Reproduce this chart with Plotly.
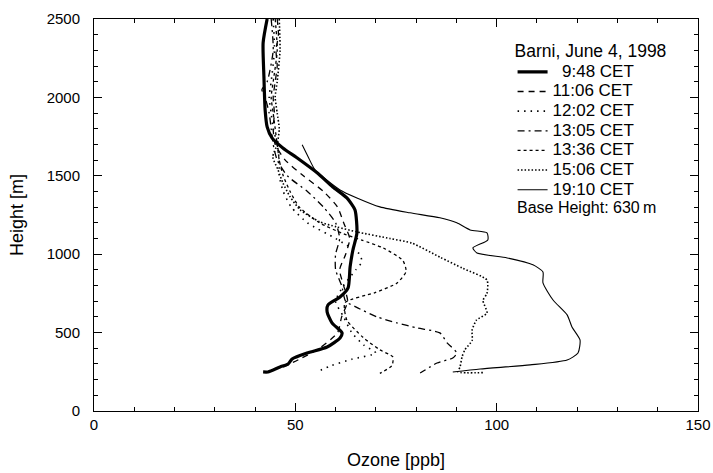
import plotly.graph_objects as go

# ---- data (Ozone [ppb] vs Height [m]) ----
h_0948 = [2500, 2348, 2131, 1921, 1812, 1742, 1678, 1615, 1519, 1429, 1359, 1283, 1136, 1027, 919, 785, 727, 676, 632, 562, 498, 466, 408, 370, 332, 300, 281, 249, 249]
o_0948 = [43.0, 42.0, 42.2, 42.5, 43.0, 44.2, 46.9, 50.4, 55.4, 59.3, 62.8, 64.8, 65.3, 64.3, 63.6, 63.1, 61.1, 58.1, 57.9, 59.1, 61.6, 61.1, 57.9, 52.9, 49.2, 48.2, 46.2, 43.2, 42.0]

h_1106 = [2500, 2400, 2300, 2200, 2100, 2000, 1900, 1800, 1700, 1600, 1500, 1400, 1300, 1200, 1100, 1000, 900, 800, 700, 600, 500, 400, 330, 280]
o_1106 = [45.5, 45.8, 45.2, 45.5, 45.0, 44.5, 44.8, 44.5, 45.0, 47.5, 52.0, 57.0, 60.5, 62.0, 63.5, 62.5, 61.0, 62.0, 63.0, 61.5, 60.5, 56.0, 51.0, 47.0]

h_1202 = [2500, 2300, 2100, 2000, 1900, 1800, 1700, 1600, 1500, 1400, 1300, 1200, 1100, 1000, 950, 900, 800, 700, 600, 500, 420, 370, 330, 290, 250]
o_1202 = [44.5, 44.8, 44.0, 43.5, 44.0, 44.5, 45.5, 46.0, 46.0, 47.0, 49.0, 53.0, 60.0, 66.0, 66.5, 65.0, 62.0, 60.0, 62.0, 64.0, 67.0, 70.0, 64.0, 59.0, 55.4]

h_1305 = [2500, 2300, 2100, 2050, 2000, 1900, 1800, 1700, 1600, 1500, 1400, 1300, 1200, 1100, 1000, 900, 800, 700, 664, 600, 562, 530, 498, 434, 370, 338, 306, 242]
o_1305 = [44.0, 44.5, 43.0, 41.7, 42.5, 43.5, 44.0, 44.5, 45.5, 48.0, 53.0, 57.0, 60.0, 61.0, 60.0, 60.0, 61.5, 62.5, 65.0, 70.3, 75.2, 80.2, 85.9, 87.7, 90.1, 89.1, 85.2, 81.0]

h_1336 = [2500, 2300, 2100, 2000, 1900, 1800, 1700, 1600, 1500, 1400, 1300, 1200, 1130, 1090, 1040, 960, 890, 815, 755, 690, 580, 470, 390, 345, 290, 240]
o_1336 = [45.0, 45.5, 44.5, 44.0, 44.5, 45.0, 45.5, 46.0, 47.0, 48.7, 51.0, 56.0, 62.0, 66.5, 71.8, 76.7, 77.5, 75.2, 69.8, 62.3, 62.8, 66.8, 71.0, 74.2, 74.0, 71.0]

h_1506 = [2500, 2300, 2100, 2000, 1900, 1800, 1700, 1621, 1538, 1455, 1366, 1283, 1206, 1174, 1142, 1100, 1070, 980, 910, 835, 750, 705, 625, 580, 515, 450, 390, 345, 280, 250, 245]
o_1506 = [46.0, 46.2, 45.5, 45.0, 45.5, 46.0, 45.5, 44.4, 45.7, 46.9, 48.7, 51.2, 56.1, 60.3, 65.3, 73.5, 79.0, 86.0, 91.6, 97.6, 97.6, 96.6, 97.6, 95.0, 93.9, 93.9, 92.1, 91.4, 90.9, 90.4, 97.0]

h_1910 = [1698, 1620, 1538, 1410, 1359, 1302, 1264, 1232, 1200, 1155, 1136, 1091, 1040, 1008, 976, 932, 887, 817, 708, 613, 536, 453, 370, 325, 294, 268, 249]
o_1910 = [51.7, 53.2, 54.9, 61.1, 65.3, 71.0, 78.5, 85.9, 90.1, 93.4, 97.6, 97.8, 94.1, 95.1, 102.6, 109.0, 111.5, 111.5, 114.0, 117.5, 118.7, 120.7, 120.2, 117.5, 108.3, 95.9, 89.1]

series_names = ["\u00a0\u00a09:48 CET", "11:06 CET", "12:02 CET", "13:05 CET", "13:36 CET", "15:06 CET", "19:10 CET"]
series_x = [o_0948, o_1106, o_1202, o_1305, o_1336, o_1506, o_1910]
series_y = [h_0948, h_1106, h_1202, h_1305, h_1336, h_1506, h_1910]

legend_title = "Barni, June 4, 1998"
note_text = "Base Height: 630\u2009m"
x_title = "Ozone [ppb]"
y_title = "Height [m]"

# ---- styles ----
styles = [
    dict(width=3.2, dash="solid"),
    dict(width=1.3, dash="6px,5px"),
    dict(width=1.6, dash="1.5px,5px"),
    dict(width=1.3, dash="7px,4px,2px,4px"),
    dict(width=1.3, dash="3px,3px"),
    dict(width=1.6, dash="1.5px,2px"),
    dict(width=1.1, dash="solid"),
]

FONT = "Liberation Sans, Arial, sans-serif"
LEG_TEXT = 17

fig = go.Figure()
for name, xs, ys, st in zip(series_names, series_x, series_y, styles):
    fig.add_trace(go.Scatter(
        x=xs, y=ys, mode="lines",
        name=f'<span style="font-size:{LEG_TEXT}px">{name}</span>',
        line=dict(color="black", width=st["width"], dash=st["dash"], shape="spline", smoothing=0.6),
    ))

axis_common = dict(
    showline=True, linecolor="black", linewidth=1, mirror="ticks",
    ticks="inside", ticklen=8, tickwidth=1, tickcolor="black",
    showgrid=False, zeroline=False, automargin=False,
    tickfont=dict(family=FONT, size=15, color="black"),
)

fig.update_layout(
    width=713, height=473,
    margin=dict(l=94, r=15, t=19, b=62, autoexpand=False),
    paper_bgcolor="white", plot_bgcolor="white",
    font=dict(family=FONT, color="black"),
    showlegend=True,
    legend=dict(
        x=0.693, y=0.961, xanchor="left", yanchor="top",
        bgcolor="rgba(0,0,0,0)", borderwidth=0,
        font=dict(family=FONT, size=12.8, color="black"),
        title=dict(text=legend_title, font=dict(family=FONT, size=17.5, color="black")),
        tracegroupgap=0,
    ),
    xaxis=dict(
        range=[0, 150], tick0=0, dtick=50,
        minor=dict(dtick=10, ticks="inside", ticklen=4, tickcolor="black"),
        title=dict(text=x_title, font=dict(family=FONT, size=18), standoff=21),
        ticklabelstandoff=0,
        **axis_common,
    ),
    yaxis=dict(
        range=[0, 2500], tick0=0, dtick=500,
        minor=dict(dtick=100, ticks="inside", ticklen=4, tickcolor="black"),
        title=dict(text=y_title, font=dict(family=FONT, size=18), standoff=18),
        ticklabelstandoff=10,
        **axis_common,
    ),
    annotations=[dict(
        text=note_text, xref="paper", yref="paper",
        x=0.697, y=0.52, xanchor="left", yanchor="middle", showarrow=False,
        font=dict(family=FONT, size=16, color="black"),
    )],
)

fig.write_html("out.html")
